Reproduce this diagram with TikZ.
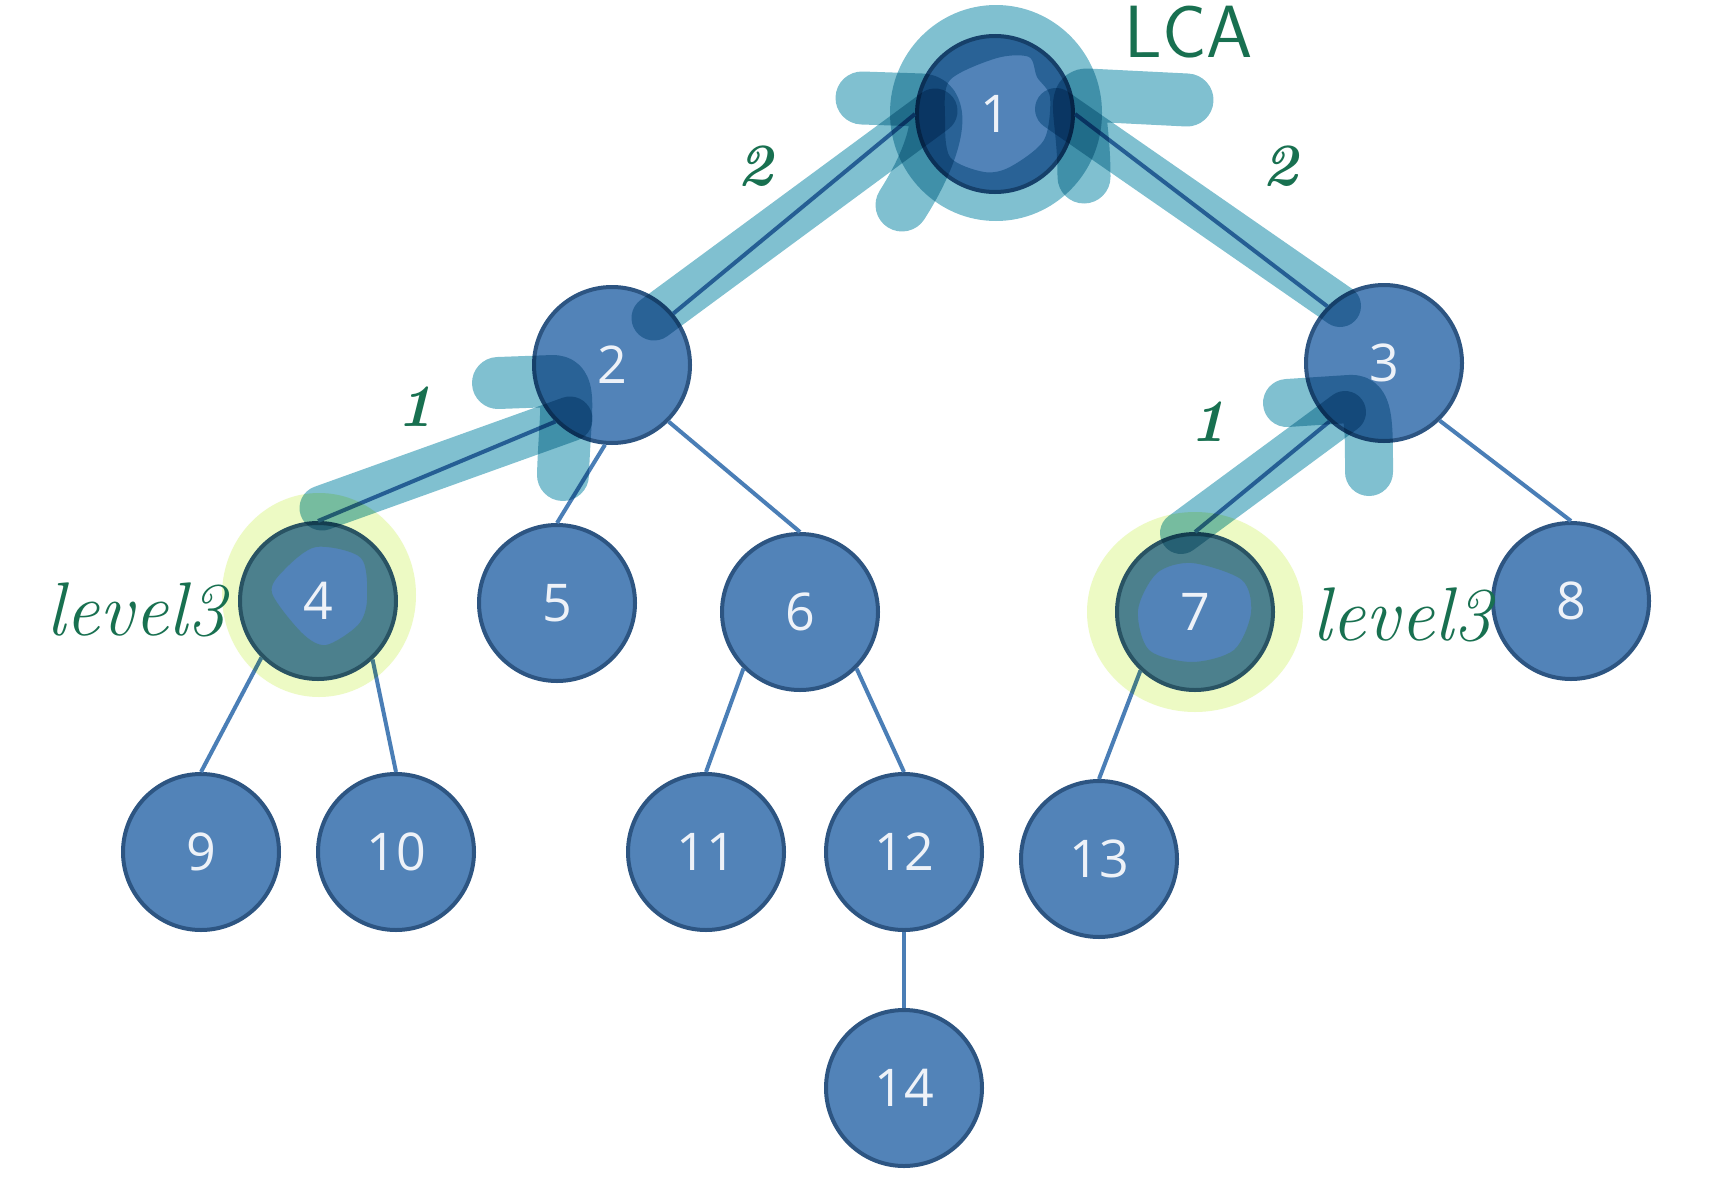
\documentclass[tikz,border=0pt]{standalone}
\usepackage{fontspec}
\newfontfamily\numfont{Open Sans}
\definecolor{nodefill}{RGB}{82,131,184}
\definecolor{nodeborder}{RGB}{45,85,130}
\definecolor{edgeblue}{RGB}{74,126,182}
\definecolor{hlteal}{RGB}{128,192,208}
\definecolor{hlyellow}{RGB}{237,250,196}
\definecolor{ink}{RGB}{24,112,80}
\definecolor{numwhite}{RGB}{238,242,248}
\tikzset{
  tnode/.style={circle, fill=nodefill, draw=nodeborder, line width=2pt,
    minimum size=78pt, inner sep=0pt, text=numwhite,
    font=\numfont\fontsize{26}{26}\selectfont},
  tedge/.style={draw=edgeblue, line width=2pt},
  marker/.style={draw=hlteal, line cap=round, line join=round},
  hand/.style={text=ink, inner sep=0pt, font=\fontsize{30}{30}\selectfont\itshape\bfseries},
  handword/.style={text=ink, inner sep=0pt, font=\fontsize{38}{38}\selectfont\itshape},
}
\begin{document}
\begin{tikzpicture}[x=0.5pt,y=-0.5pt]
\fill[white] (0,0) rectangle (1735,1178);
\useasboundingbox (0,0) rectangle (1735,1178);

% nodes
\node[tnode] (n1)  at (995,114)  {1};
\node[tnode] (n2)  at (612,365)  {2};
\node[tnode] (n3)  at (1384,363) {3};
\node[tnode] (n4)  at (318,601)  {4};
\node[tnode] (n5)  at (557,603)  {5};
\node[tnode] (n6)  at (800,612)  {6};
\node[tnode] (n7)  at (1195,612) {7};
\node[tnode] (n8)  at (1571,601) {8};
\node[tnode] (n9)  at (201,852)  {9};
\node[tnode] (n10) at (396,852)  {10};
\node[tnode] (n11) at (706,852)  {11};
\node[tnode] (n12) at (904,852)  {12};
\node[tnode] (n13) at (1099,859) {13};
\node[tnode] (n14) at (904,1088) {14};

% edges
\draw[tedge] (n1.west) -- (n2.40);
\draw[tedge] (n1.east) -- (n3.135);
\draw[tedge] (n2.225) -- (n4.north);
\draw[tedge] (n2.265) -- (n5.north);
\draw[tedge] (n2.315) -- (n6.north);
\draw[tedge] (n3.227) -- (n7.north);
\draw[tedge] (n3.314) -- (n8.north);
\draw[tedge] (n4.225) -- (n9.north);
\draw[tedge] (n4.313) -- (n10.north);
\draw[tedge] (n6.225) -- (n11.north);
\draw[tedge] (n6.315) -- (n12.north);
\draw[tedge] (n7.227) -- (n13.north);
\draw[tedge] (n12.south) -- (n14.north);

% highlighter marks
\begin{scope}[blend mode=multiply]
  % yellow rings around 4 and 7
  \fill[hlyellow, even odd rule] (319,595) ellipse [x radius=48.5pt, y radius=51pt]
    plot[smooth cycle] coordinates {(316,547) (361,558) (367,600) (358,625) (326,645) (302,633) (272,593) (284,570)};
  \fill[hlyellow, even odd rule] (1195,612) ellipse [x radius=54pt, y radius=50pt]
    plot[smooth cycle] coordinates {(1192,563) (1242,580) (1251,613) (1234,650) (1192,662) (1149,650) (1138,610) (1157,573)};
  % ring round node 1
  \fill[hlteal, even odd rule] (996,113) ellipse [x radius=53pt, y radius=54pt]
    plot[smooth cycle] coordinates {(950,80) (997,58) (1029,57) (1037,77) (1050,97) (1044,140) (1010,167) (984,172) (950,157) (945,117)};
  % arms at node 1
  \draw[marker, line width=26.5pt] (862,98) -- (922,100) .. controls (947,102) and (937,150) .. (902,205);
  \draw[marker, line width=26.5pt] (1187,100) -- (1087,95) .. controls (1072,95) and (1084,120) .. (1084,177);
  % path edges
  \draw[marker, line width=22.5pt] (654,318) -- (935,111);
  \draw[marker, line width=21pt] (1056,109) -- (1340,306);
  \draw[marker, line width=22.5pt] (322,508) -- (570,419);
  \draw[marker, line width=21pt] (1181,533) -- (1345,412);
  % hooks at 2 and 3
  \draw[marker, line width=26pt] (498,383) -- (553,381) .. controls (573,381) and (565,409) .. (563,475);
  \draw[marker, line width=24pt] (1287,403) -- (1349,399) .. controls (1369,397) and (1369,419) .. (1369,472);
\end{scope}

% handwritten labels
\node[text=ink, inner sep=0pt, font=\fontsize{37}{37}\selectfont\sffamily] (lca) at (1189,32) {LCA};
\node[hand] (w12) at (755,166) {2};
\node[hand] (w13) at (1280,166) {2};
\node[hand] (w24) at (415,407) {1};
\node[hand] (w37) at (1208,422) {1};
\node[handword] (lv4) at (136,610) {level3};
\node[handword] (lv7) at (1402,615) {level3};
\end{tikzpicture}
\end{document}
